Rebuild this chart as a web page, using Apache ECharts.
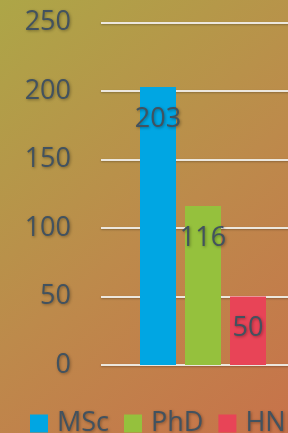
<!DOCTYPE html>
<html>
<head>
<meta charset="utf-8">
<script src="https://cdn.jsdelivr.net/npm/echarts@6/dist/echarts.min.js"></script>
<style>
  html, body { margin: 0; padding: 0; width: 288px; height: 433px; overflow: hidden; }
  #chart { width: 340px; height: 433px; }
</style>
</head>
<body>
<div id="chart"></div>
<script>
const categories = [""];
const seriesNames = ["MSc", "PhD", "HND"];
const seriesValues = [[203], [116], [50]];
const seriesColors = ["#00a6e3", "#95c13d", "#e84457"];
const yTicks = { min: 0, max: 250, interval: 50 };

const textColor = "#42525f";
const shadow = { textShadowColor: "rgba(0,0,0,0.35)", textShadowBlur: 3, textShadowOffsetX: 1, textShadowOffsetY: 1 };

const chart = echarts.init(document.getElementById("chart"), null, { renderer: "canvas" });

const series = seriesNames.map((name, i) => ({
  name,
  type: "bar",
  data: seriesValues[i],
  barWidth: 36,
  barGap: "25%",
  itemStyle: { color: seriesColors[i] },
  label: {
    show: true,
    position: ["50%", 32],
    align: "center",
    verticalAlign: "middle",
    fontFamily: "Open Sans",
    fontSize: 27,
    color: textColor,
    ...shadow,
  },
}));

chart.setOption({
  backgroundColor: new echarts.graphic.LinearGradient(0, 0, 1, 1, [
    { offset: 0, color: "#ada647" },
    { offset: 0.5, color: "#bd8a4b" },
    { offset: 1, color: "#c96f4a" },
  ]),
  animation: false,
  grid: { left: 101, right: 35, top: 22.5, bottom: 68 },
  legend: {
    left: 30,
    top: 410,
    padding: 0,
    itemWidth: 18,
    itemHeight: 18,
    itemGap: 15,
    icon: "rect",
    data: seriesNames,
    textStyle: { fontFamily: "Open Sans", fontSize: 27, color: textColor, padding: [0, 0, 0, 4], ...shadow },
  },
  xAxis: {
    type: "category",
    data: categories,
    axisLine: { show: false },
    axisTick: { show: false },
    axisLabel: { show: false },
  },
  yAxis: {
    type: "value",
    min: yTicks.min,
    max: yTicks.max,
    interval: yTicks.interval,
    axisLine: { show: false },
    axisTick: { show: false },
    axisLabel: { margin: 30, fontFamily: "Open Sans", fontSize: 27, color: textColor, ...shadow },
    splitLine: { lineStyle: { color: "#ece7de", width: 2, shadowColor: "rgba(0,0,0,0.25)", shadowBlur: 2, shadowOffsetY: 1 } },
  },
  series,
});
</script>
</body>
</html>
